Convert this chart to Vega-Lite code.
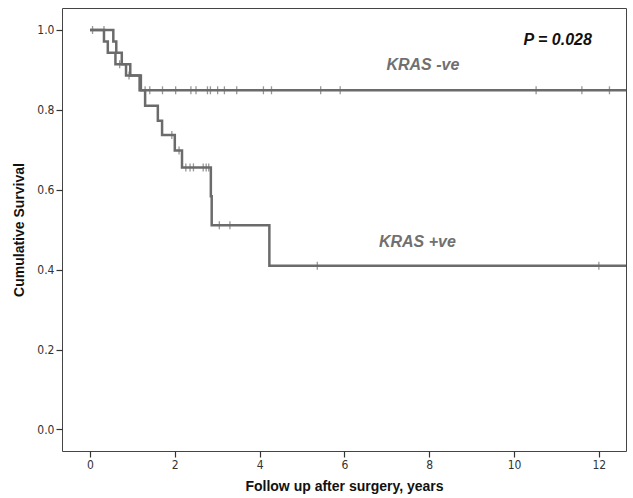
{
  "$schema": "https://vega.github.io/schema/vega-lite/v6.json",
  "width": 564,
  "height": 443,
  "autosize": {"type": "none"},
  "padding": {"left": 62, "top": 8, "right": 7, "bottom": 47},
  "background": "white",
  "config": {
    "view": {"stroke": "#444", "strokeWidth": 1},
    "font": "Liberation Sans",
    "axis": {
      "grid": false,
      "domain": false,
      "tickColor": "#333",
      "tickSize": 6,
      "tickWidth": 1.2,
      "labelColor": "#333",
      "labelFont": "DejaVu Sans Condensed",
      "labelFontSize": 12,
      "titleFont": "Liberation Sans",
      "titleFontSize": 14,
      "titleFontWeight": "bold",
      "titleColor": "#111"
    }
  },
  "datasets": {
    "curves": [
      {"group": "KRAS -ve", "t": 0, "s": 1.0},
      {"group": "KRAS -ve", "t": 0.55, "s": 0.971},
      {"group": "KRAS -ve", "t": 0.62, "s": 0.943},
      {"group": "KRAS -ve", "t": 0.75, "s": 0.914},
      {"group": "KRAS -ve", "t": 0.95, "s": 0.886},
      {"group": "KRAS -ve", "t": 1.2, "s": 0.849},
      {"group": "KRAS -ve", "t": 12.7, "s": 0.849},
      {"group": "KRAS +ve", "t": 0, "s": 1.0},
      {"group": "KRAS +ve", "t": 0.33, "s": 0.971},
      {"group": "KRAS +ve", "t": 0.42, "s": 0.943},
      {"group": "KRAS +ve", "t": 0.6, "s": 0.914},
      {"group": "KRAS +ve", "t": 0.85, "s": 0.886},
      {"group": "KRAS +ve", "t": 1.17, "s": 0.849},
      {"group": "KRAS +ve", "t": 1.3, "s": 0.81},
      {"group": "KRAS +ve", "t": 1.6, "s": 0.773},
      {"group": "KRAS +ve", "t": 1.7, "s": 0.737},
      {"group": "KRAS +ve", "t": 2.0, "s": 0.698},
      {"group": "KRAS +ve", "t": 2.17, "s": 0.656},
      {"group": "KRAS +ve", "t": 2.85, "s": 0.584},
      {"group": "KRAS +ve", "t": 2.87, "s": 0.511},
      {"group": "KRAS +ve", "t": 4.23, "s": 0.41},
      {"group": "KRAS +ve", "t": 12.7, "s": 0.41}
    ],
    "censors": [
      {"group": "KRAS -ve", "t": 0.06, "s": 1.0},
      {"group": "KRAS -ve", "t": 0.33, "s": 1.0},
      {"group": "KRAS -ve", "t": 1.3, "s": 0.849},
      {"group": "KRAS -ve", "t": 1.41, "s": 0.849},
      {"group": "KRAS -ve", "t": 1.71, "s": 0.849},
      {"group": "KRAS -ve", "t": 2.02, "s": 0.849},
      {"group": "KRAS -ve", "t": 2.38, "s": 0.849},
      {"group": "KRAS -ve", "t": 2.5, "s": 0.849},
      {"group": "KRAS -ve", "t": 2.77, "s": 0.849},
      {"group": "KRAS -ve", "t": 2.84, "s": 0.849},
      {"group": "KRAS -ve", "t": 3.01, "s": 0.849},
      {"group": "KRAS -ve", "t": 3.17, "s": 0.849},
      {"group": "KRAS -ve", "t": 3.46, "s": 0.849},
      {"group": "KRAS -ve", "t": 4.09, "s": 0.849},
      {"group": "KRAS -ve", "t": 4.28, "s": 0.849},
      {"group": "KRAS -ve", "t": 5.44, "s": 0.849},
      {"group": "KRAS -ve", "t": 5.9, "s": 0.849},
      {"group": "KRAS -ve", "t": 10.52, "s": 0.849},
      {"group": "KRAS -ve", "t": 11.6, "s": 0.849},
      {"group": "KRAS -ve", "t": 12.25, "s": 0.849},
      {"group": "KRAS +ve", "t": 0.7, "s": 0.914},
      {"group": "KRAS +ve", "t": 0.92, "s": 0.886},
      {"group": "KRAS +ve", "t": 1.93, "s": 0.737},
      {"group": "KRAS +ve", "t": 2.1, "s": 0.698},
      {"group": "KRAS +ve", "t": 2.26, "s": 0.656},
      {"group": "KRAS +ve", "t": 2.36, "s": 0.656},
      {"group": "KRAS +ve", "t": 2.44, "s": 0.656},
      {"group": "KRAS +ve", "t": 2.67, "s": 0.656},
      {"group": "KRAS +ve", "t": 2.74, "s": 0.656},
      {"group": "KRAS +ve", "t": 2.8, "s": 0.656},
      {"group": "KRAS +ve", "t": 3.05, "s": 0.511},
      {"group": "KRAS +ve", "t": 3.3, "s": 0.511},
      {"group": "KRAS +ve", "t": 5.36, "s": 0.41},
      {"group": "KRAS +ve", "t": 12.0, "s": 0.41}
    ],
    "labels": [
      {"label": "KRAS -ve", "t": 7.85, "s": 0.912, "kind": "group"},
      {"label": "KRAS +ve", "t": 7.72, "s": 0.469, "kind": "group"},
      {"label": "P = 0.028", "t": 11.03, "s": 0.975, "kind": "p"}
    ]
  },
  "layer": [
    {
      "data": {"name": "curves"},
      "mark": {"type": "line", "interpolate": "step-after", "color": "#6b6b6b", "strokeWidth": 2.5, "clip": true},
      "encoding": {
        "x": {"field": "t", "type": "quantitative", "scale": {"domain": [-0.66, 12.64], "nice": false, "zero": false},
          "axis": {"values": [0, 2, 4, 6, 8, 10, 12], "title": "Follow up after surgery, years", "titlePadding": 9, "labelPadding": 2}},
        "y": {"field": "s", "type": "quantitative", "scale": {"domain": [-0.054, 1.055], "nice": false, "zero": false},
          "axis": {"values": [0, 0.2, 0.4, 0.6, 0.8, 1.0], "format": ".1f", "title": "Cumulative Survival", "titlePadding": 10, "labelPadding": 2}},
        "detail": {"field": "group", "type": "nominal"}
      }
    },
    {
      "data": {"name": "censors"},
      "mark": {"type": "tick", "orient": "vertical", "color": "#6b6b6b", "size": 8, "thickness": 1.3, "clip": true},
      "encoding": {
        "x": {"field": "t", "type": "quantitative"},
        "y": {"field": "s", "type": "quantitative"}
      }
    },
    {
      "data": {"name": "labels"},
      "mark": {"type": "text", "fontSize": 16, "fontWeight": "bold", "fontStyle": "italic", "font": "Liberation Sans"},
      "encoding": {
        "x": {"field": "t", "type": "quantitative"},
        "y": {"field": "s", "type": "quantitative"},
        "text": {"field": "label"},
        "color": {"field": "kind", "type": "nominal", "scale": {"domain": ["group", "p"], "range": ["#707070", "#111111"]}, "legend": null}
      }
    }
  ]
}
